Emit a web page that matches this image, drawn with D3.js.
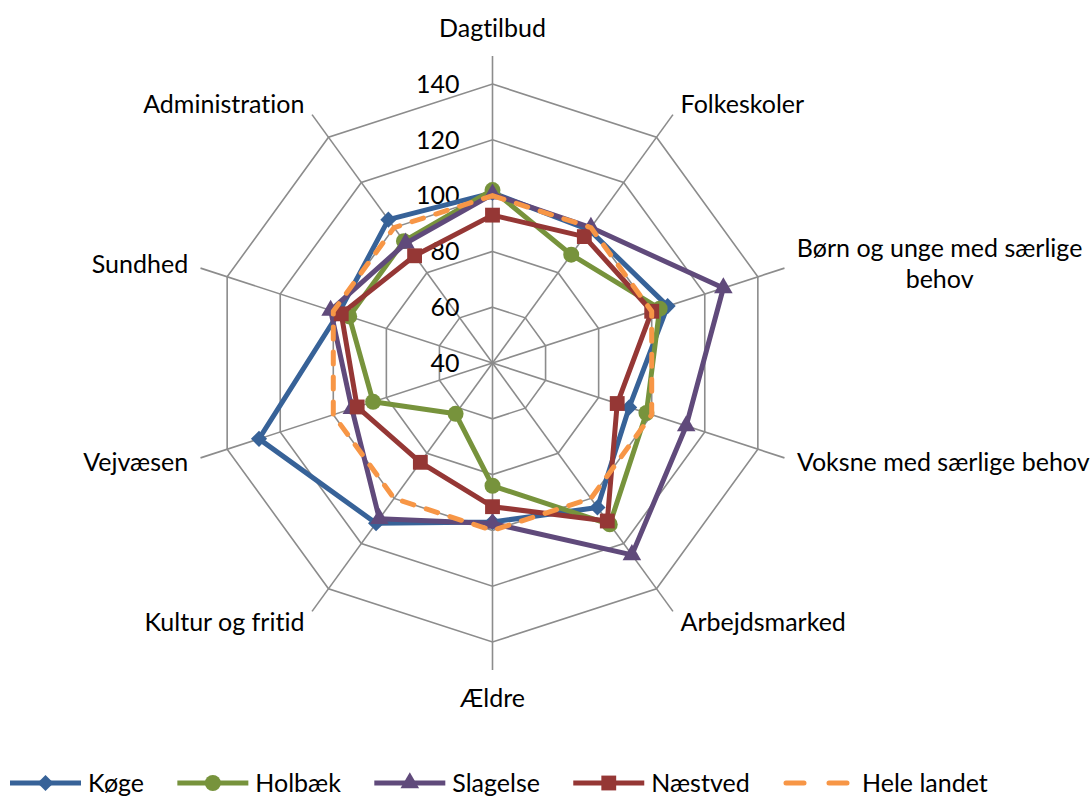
<!DOCTYPE html>
<html>
<head>
<meta charset="utf-8">
<script src="https://cdn.jsdelivr.net/npm/d3@7"></script>
<style>
  body { margin: 0; background: #fff; }
  text { font-family: Lato, "Open Sans", sans-serif; fill: #000; font-variant-ligatures: none; }
</style>
</head>
<body>
<div id="chart"></div>
<script>
// values (index, Hele landet = 100)
var categories = ["Dagtilbud", "Folkeskoler", "Børn og unge med særlige behov", "Voksne med særlige behov",
  "Arbejdsmarked", "Ældre", "Kultur og fritid", "Vejvæsen", "Sundhed", "Administration"];
var koege      = [101, 99, 106, 91.5, 104, 97, 111, 128, 98, 103.5];
var holbaek    = [102, 88, 103, 98, 111.5, 84, 62.5, 85, 94, 94];
var slagelse   = [100.5, 100, 127, 113, 125, 97.5, 109, 93, 101, 93];
var naestved   = [93, 96, 100, 87, 110, 91.5, 84, 91, 97, 87.5];
var heleLandet = [100, 100, 100, 100, 100, 100, 100, 100, 100, 100];
var seriesNames = ["Køge", "Holbæk", "Slagelse", "Næstved", "Hele landet"];
var ticks = [40, 60, 80, 100, 120, 140];

var width = 1091, height = 796
var cx = 492.5, cy = 363
var outer = 279
var fontSize = 25

var series = [
  {name: seriesNames[0], values: koege, color: "#376298", symbol: "diamond"},
  {name: seriesNames[1], values: holbaek, color: "#77933c", symbol: "circle"},
  {name: seriesNames[2], values: slagelse, color: "#604a7b", symbol: "triangle"},
  {name: seriesNames[3], values: naestved, color: "#953735", symbol: "square"},
  {name: seriesNames[4], values: heleLandet, color: "#f79646", symbol: null, dashed: true}
]

var r = d3.scaleLinear().domain([ticks[0], ticks[ticks.length - 1]]).range([0, outer])
var angle = d3.scalePoint().domain(d3.range(categories.length)).range([0, 2 * Math.PI * (1 - 1 / categories.length)])

var svg = d3.select("#chart").append("svg")
  .attr("width", width).attr("height", height)

var g = svg.append("g").attr("transform", "translate(" + cx + "," + cy + ")")

// rings
ticks.slice(1).forEach(function(t) {
  g.append("path")
    .datum(categories.map(function(c, i) { return i }))
    .attr("d", d3.lineRadial().angle(function(i) { return angle(i) }).radius(r(t)).curve(d3.curveLinearClosed))
    .attr("fill", "none").attr("stroke", "#8c8c8c").attr("stroke-width", 1.6)
})

// spokes
g.selectAll(".spoke").data(categories).enter().append("line")
  .attr("class", "spoke")
  .attr("x1", 0).attr("y1", 0)
  .attr("x2", function(d, i) { return d3.pointRadial(angle(i), outer + 28)[0] })
  .attr("y2", function(d, i) { return d3.pointRadial(angle(i), outer + 28)[1] })
  .attr("stroke", "#8c8c8c").attr("stroke-width", 1.6)

// tick labels
g.selectAll(".tick").data(ticks).enter().append("text")
  .attr("class", "tick")
  .attr("x", -33).attr("y", function(d) { return -r(d) })
  .attr("dy", "0.35em")
  .attr("text-anchor", "end")
  .style("font-size", fontSize + "px")
  .text(function(d) { return d })

// category labels
function wrap(s, maxChars) {
  var words = s.split(" "), lines = [], cur = ""
  words.forEach(function(w) {
    var next = cur ? cur + " " + w : w
    if (next.length > maxChars && cur) { lines.push(cur); cur = w } else cur = next
  })
  lines.push(cur)
  return lines
}

var lineH = fontSize * 1.25
categories.forEach(function(c, i) {
  var a = angle(i)
  var p = d3.pointRadial(a, 320)
  var s = Math.sin(a), co = Math.cos(a)
  var lines = wrap(c, 24)
  var t = g.append("text").style("font-size", fontSize + "px").attr("text-anchor", "middle")
  lines.forEach(function(l, k) {
    t.append("tspan").attr("x", 0).attr("y", (k - (lines.length - 1) / 2) * lineH).attr("dy", "0.35em").text(l)
  })
  var bb = t.node().getBBox()
  var x = p[0], y = p[1]
  if (s > 0.1) x += bb.width / 2
  else if (s < -0.1) x -= bb.width / 2
  if (Math.abs(s) < 0.1) y += co > 0 ? -(bb.height / 2) : bb.height / 2
  t.attr("transform", "translate(" + x + "," + y + ")")
})

// series
var symbolTypes = {diamond: d3.symbolSquare, circle: d3.symbolCircle, triangle: d3.symbolTriangle, square: d3.symbolSquare}
var symbolSizes = {diamond: 130, circle: 200, triangle: 150, square: 220}

function drawSymbol(sel, s) {
  sel.append("path")
    .attr("d", d3.symbol().type(symbolTypes[s.symbol]).size(symbolSizes[s.symbol]))
    .attr("fill", s.color)
    .attr("transform", function() {
      return s.symbol === "diamond" ? "rotate(45)" : null
    })
}

var radarLine = d3.lineRadial()
  .angle(function(d, i) { return angle(i) })
  .radius(function(d) { return r(d) })
  .curve(d3.curveLinearClosed)

series.forEach(function(s) {
  var sg = g.append("g")
  sg.append("path")
    .attr("d", radarLine(s.values))
    .attr("fill", "none")
    .attr("stroke", s.color)
    .attr("stroke-width", 5)
    .attr("stroke-linejoin", "round")
    .attr("stroke-linecap", s.dashed ? "round" : "butt")
    .attr("stroke-dasharray", s.dashed ? "12,13" : null)
  if (s.symbol) {
    sg.selectAll(".m").data(s.values).enter().append("g")
      .attr("transform", function(d, i) {
        var p = d3.pointRadial(angle(i), r(d))
        return "translate(" + p[0] + "," + p[1] + ")"
      })
      .each(function() { drawSymbol(d3.select(this), s) })
  }
})

// legend: items laid out one after another, gap spread so the last item starts at 783
var legend = svg.append("g").attr("transform", "translate(0,783)")
var items = series.map(function(s) {
  var lg = legend.append("g")
  lg.append("line").attr("x1", 0).attr("x2", s.dashed ? 62 : 71)
    .attr("stroke", s.color).attr("stroke-width", 5)
    .attr("stroke-linecap", s.dashed ? "round" : "butt")
    .attr("stroke-dasharray", s.dashed ? "18,25" : null)
    .attr("transform", s.dashed ? "translate(3,0)" : null)
  if (s.symbol) {
    var m = lg.append("g").attr("transform", "translate(35.5,0)")
    drawSymbol(m, s)
  }
  var txt = lg.append("text").attr("x", s.dashed ? 79 : 78).attr("dy", "0.35em")
    .style("font-size", fontSize + "px").text(s.name)
  return {g: lg, w: 78 + txt.node().getComputedTextLength()}
})
var gap = (783 - 10 - d3.sum(items.slice(0, -1), function(d) { return d.w })) / (items.length - 1)
var lx = 10
items.forEach(function(it) {
  it.g.attr("transform", "translate(" + lx + ",0)")
  lx += it.w + gap
})
</script>
</body>
</html>
